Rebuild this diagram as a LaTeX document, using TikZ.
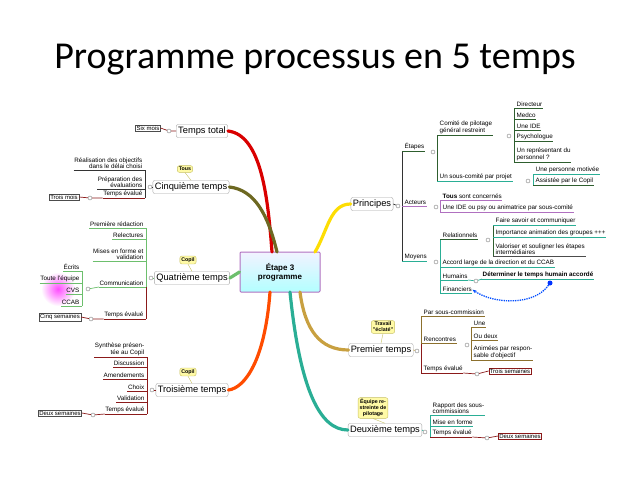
\documentclass[tikz,border=0pt]{standalone}
\usepackage{fontspec}
\setmainfont{Liberation Sans}
\newfontfamily\titlefont{Carlito}
\usetikzlibrary{arrows.meta}
\definecolor{dred}{HTML}{8B1A1A}
\definecolor{dgreen}{HTML}{2E5E2E}
\definecolor{lgreen}{HTML}{6DBF6D}
\definecolor{pur}{HTML}{B070C0}
\definecolor{teal2}{HTML}{2AAE95}
\definecolor{gold2}{HTML}{C8A040}
\tikzset{
 lf/.style={font=\fontsize{6.3}{6.8}\selectfont,inner xsep=0.5pt,inner ysep=0.8pt},
 ul/.style={line width=0.7pt},
 br/.style={draw=gray!70,rounded corners=2pt,fill=white,font=\fontsize{9.3}{10}\selectfont,inner sep=2pt,minimum height=13pt},
 tag/.style={draw=black!70,fill=white,font=\fontsize{6}{6.6}\selectfont,inner sep=1pt},
 dotc/.style={circle,draw=gray,fill=white,inner sep=0pt,minimum size=4pt},
 call/.style={draw=yellow!50!gray,fill=yellow!35,rounded corners=2pt,font=\bfseries\fontsize{5.3}{5.9}\selectfont,inner sep=1.5pt,align=center},
 thick1/.style={line width=3.2pt,line cap=round},
}
\newcommand\lleaf[5]{\node[lf,anchor=south east,align=right,xshift=-2pt] (#1) at (#2,#3) {#5};
 \draw[ul,#4] (#1.south west) -- (#2,#3);}
\newcommand\rleaf[5]{\node[lf,anchor=south west,align=left,xshift=2pt] (#1) at (#2,#3) {#5};
 \draw[ul,#4] (#2,#3) -- (#1.south east);}
\begin{document}
\begin{tikzpicture}[x=1pt,y=-1pt]
\useasboundingbox (0,0) rectangle (638,479);
\node[font=\titlefont\fontsize{38}{42}\selectfont] (title) at (315,60) {Programme processus en 5 temps};

% centre
\node[draw=pur,line width=1pt,rounded corners=1pt,top color=blue!5,bottom color=cyan!30,minimum width=80pt,minimum height=40pt,align=center,font=\bfseries\fontsize{8}{9}\selectfont] (ctr) at (280,272) {Étape 3\\programme};

% main curves
\node[br] (tt) at (202,131) {Temps total};
\node[br] (c5) at (191,187) {Cinquième temps};
\node[br] (c4) at (192,278) {Quatrième temps};
\node[br] (c3) at (192,390) {Troisième temps};
\node[br] (pr) at (372,204) {Principes};
\node[br] (pt) at (381,350) {Premier temps};
\node[br] (dt) at (385,430) {Deuxième temps};

\draw[thick1,red!85!black] (tt.east) .. controls (262,135) and (268,200) .. (272,252);
\draw[thick1,olive!70!black] (c5.east) .. controls (255,190) and (268,215) .. (277,252);
\draw[thick1,lgreen] (c4.east) -- (ctr.west);
\draw[thick1,orange!60!red] (c3.east) .. controls (245,388) and (265,360) .. (270,292);
\draw[thick1,yellow!80!orange] (315,252) .. controls (328,230) and (330,204) .. (pr.west);
\draw[thick1,gold2] (300,292) .. controls (305,330) and (320,350) .. (pt.west);
\draw[thick1,teal2] (290,292) .. controls (300,390) and (320,430) .. (dt.west);

% Temps total
\node[dotc] (d1) at (169,131) {};
\node[tag] (sixm) at (148,128) {Six mois};
\draw[dred,ul] (tt.west) -- (d1) -- (sixm.east);

% Cinquieme
\node[call] (tous) at (185,169) {Tous};
\draw[yellow!50!gray] (tous.south) -- (c5.north);
\node[dotc] (d5) at (150,187) {};
\draw[ul,black!80] (d5) -- (c5.west);
\draw[ul,black!80] (145,170) -- (145,198);
\lleaf{a1}{145}{170}{black!80}{Réalisation des objectifs\\dans le délai choisi}
\lleaf{a2}{145}{189}{black!80}{Préparation des\\évaluations}
\lleaf{a3}{145}{198}{dred}{Temps évalué}
\node[dotc] (d5b) at (90,198) {};
\node[tag] (troism) at (64,197) {Trois mois};
\draw[dred,ul] (a3.south west) -- (d5b) -- (troism.east);

% Quatrieme
\node[call] (copil1) at (188,260) {Copil};
\draw[yellow!50!gray] (copil1.south) -- (c4.north);
\node[dotc] (d4) at (151,278) {};
\draw[ul,lgreen] (d4) -- (c4.west);
\draw[ul,lgreen] (146,228) -- (146,287);
\draw[ul,dred] (146,287) -- (146,319);
\lleaf{b1}{146}{228}{lgreen}{Première rédaction}
\lleaf{b2}{146}{239}{lgreen}{Relectures}
\lleaf{b3}{146}{261}{lgreen}{Mises en forme et\\validation}
\lleaf{b4}{146}{287}{lgreen}{Communication}
\lleaf{b5}{146}{319}{dred}{Temps évalué}
\node[dotc] (d4b) at (91,319) {};
\node[tag] (cinqs) at (60,317) {Cinq semaines};
\draw[dred,ul] (b5.south west) -- (d4b) -- (cinqs.east);
\shade[inner color=magenta!70,outer color=white] (58,289) circle (17);
\node[dotc] (d4c) at (88,289) {};
\draw[ul,lgreen] (b4.south west) -- (d4c);
\draw[ul,lgreen] (82,271) -- (82,306);
\lleaf{e1}{82}{271}{lgreen}{Écrits}
\lleaf{e2}{82}{283}{lgreen}{Toute l'équipe}
\lleaf{e3}{82}{294}{lgreen}{CVS}
\lleaf{e4}{82}{306}{lgreen}{CCAB}

% Troisieme
\node[call] (copil2) at (188,372) {Copil};
\draw[yellow!50!gray] (copil2.south) -- (c3.north);
\node[dotc] (d3) at (152,390) {};
\draw[ul,dred] (d3) -- (c3.west);
\draw[ul,dred] (147,357) -- (147,414);
\lleaf{f1}{147}{357}{dred}{Synthèse présen-\\tée au Copil}
\lleaf{f2}{147}{367}{dred}{Discussion}
\lleaf{f3}{147}{379}{dred}{Amendements}
\lleaf{f4}{147}{391}{dred}{Choix}
\lleaf{f5}{147}{402}{dred}{Validation}
\lleaf{f6}{147}{414}{dred}{Temps évalué}
\node[dotc] (d3b) at (93,415) {};
\node[tag] (deuxs) at (60,413) {Deux semaines};
\draw[dred,ul] (f6.south west) -- (d3b) -- (deuxs.east);

% Principes
\node[dotc] (dp) at (398,206) {};
\draw[ul,black!80] (pr.east) -- (dp);
\draw[ul,black!80] (402,151) -- (402,262);
\rleaf{g1}{402}{151}{dgreen}{Étapes}
\rleaf{g2}{402}{206}{pur}{Acteurs}
\rleaf{g3}{402}{261}{teal2}{Moyens}
\node[dotc] (dg1) at (433,152) {};
\draw[ul,dgreen] (437,135) -- (437,181);
\rleaf{h1}{437}{135}{dgreen}{Comité de pilotage\\général restreint}
\rleaf{h2}{437}{181}{teal2}{Un sous-comité par projet}
\node[dotc] (dh1) at (509,136) {};
\draw[ul,dgreen] (514,108) -- (514,162);
\rleaf{i1}{514}{108}{dgreen}{Directeur}
\rleaf{i2}{514}{119}{dgreen}{Medco}
\rleaf{i3}{514}{130}{dgreen}{Une IDE}
\rleaf{i4}{514}{141}{dgreen}{Psychologue}
\rleaf{i5}{514}{162}{dgreen}{Un représentant du\\personnel ?}
\node[dotc] (dh2) at (528,181) {};
\draw[ul,teal2] (533,174) -- (533,185);
\rleaf{j1}{533}{174}{teal2}{Une personne motivée}
\rleaf{j2}{533}{185}{dgreen}{Assistée par le Copil}
\node[dotc] (dg2) at (436,207) {};
\draw[ul,pur] (440,200) -- (440,212);
\rleaf{k1}{440}{200}{pur}{\textbf{Tous} sont concernés}
\rleaf{k2}{440}{212}{pur}{Une IDE ou psy ou animatrice par sous-comité}
\node[dotc] (dg3) at (436,262) {};
\draw[ul,teal2] (440,239) -- (440,293);
\rleaf{l1}{440}{239}{dgreen}{Relationnels}
\rleaf{l2}{440}{267}{teal2}{Accord large de la direction et du CCAB}
\rleaf{l3}{440}{280}{teal2}{Humains}
\rleaf{l4}{440}{293}{teal2}{Financiers}
\node[dotc] (dl1) at (488,240) {};
\draw[ul,dgreen] (493,225) -- (493,256);
\rleaf{m1}{493}{225}{teal2}{Faire savoir et communiquer}
\rleaf{m2}{493}{237}{teal2}{Importance animation des groupes +++}
\rleaf{m3}{493}{256}{black!70}{Valoriser et souligner les étapes\\intermédiaires}
\node[dotc] (dl3) at (476,281) {};
\rleaf{n1}{480}{279}{teal2}{\textbf{Déterminer le temps humain accordé}}
\draw[ul,teal2] (l3.south east) -- (dl3) -- (482,279);
\node[circle,fill=blue!80!cyan,inner sep=0pt,minimum size=5pt] (bdot) at (550,283) {};
\draw[blue!70!cyan,densely dotted,line width=1.3pt,-{Stealth[length=4pt]}] (bdot) .. controls (535,305) and (495,305) .. (l4.east);

% Premier temps
\node[call] (trav) at (383,327) {Travail\\"éclaté"};
\draw[yellow!50!gray] (trav.south) -- (pt.north);
\node[dotc] (dpt) at (417,351) {};
\draw[ul,gold2] (pt.east) -- (dpt);
\draw[ul,gold2!70!black] (421,316) -- (421,343);
\draw[ul,dred] (421,343) -- (421,373);
\rleaf{o1}{421}{316}{gold2!70!black}{Par sous-commission}
\rleaf{o2}{421}{343}{gold2!70!black}{Rencontres}
\rleaf{o3}{421}{373}{dred}{Temps évalué}
\node[dotc] (do2) at (467,345) {};
\draw[ul,gold2!70!black] (471,327) -- (471,360);
\rleaf{p1}{471}{327}{gold2!70!black}{Une}
\rleaf{p2}{471}{340}{gold2!70!black}{Ou deux}
\rleaf{p3}{471}{360}{gold2!70!black}{Animées par respon-\\sable d'objectif}
\node[dotc] (do3) at (477,374) {};
\node[tag,draw=dred] (troiss) at (510,371) {Trois semaines};
\draw[dred,ul] (o3.south east) -- (do3) -- (troiss.west);

% Deuxieme temps
\node[call] (equ) at (373,408) {Équipe re-\\streinte de\\pilotage};
\draw[yellow!50!gray] (equ.south) -- (dt.north);
\node[dotc] (ddt) at (425,432) {};
\draw[ul,teal2] (dt.east) -- (ddt);
\draw[ul,teal2] (430,415) -- (430,437);
\rleaf{q1}{430}{415}{teal2}{Rapport des sous-\\commissions}
\rleaf{q2}{430}{426}{teal2}{Mise en forme}
\rleaf{q3}{430}{437}{dred}{Temps évalué}
\node[dotc] (dq3) at (487,438) {};
\node[tag,draw=dred] (deuxs2) at (520,436) {Deux semaines};
\draw[dred,ul] (q3.south east) -- (dq3) -- (deuxs2.west);
\end{tikzpicture}
\end{document}
